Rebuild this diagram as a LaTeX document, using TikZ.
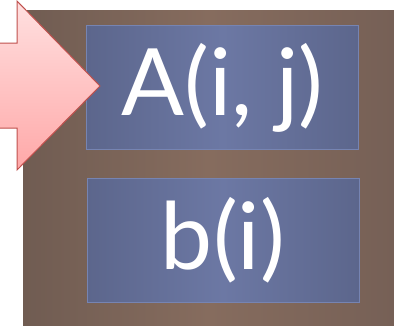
\documentclass[tikz,border=0pt]{standalone}
\usepackage{fontspec}
\setmainfont{Lato}
\definecolor{brL}{RGB}{112,92,82}
\definecolor{brM}{RGB}{134,108,94}
\definecolor{brR}{RGB}{118,96,86}
\definecolor{blD}{RGB}{92,102,140}
\definecolor{blM}{RGB}{108,120,164}
\definecolor{blB}{RGB}{118,132,178}
\definecolor{arB}{RGB}{192,80,77}
\definecolor{arT}{RGB}{255,224,224}
\definecolor{arBt}{RGB}{255,168,168}
\begin{document}
\begin{tikzpicture}[x=1pt,y=-1pt,
  cell/.style={draw=blB,line width=0.8pt,
     left color=blD,right color=blD,middle color=blM,
     minimum width=272pt,minimum height=124pt,inner sep=0pt,
     text=white,font=\fontsize{93}{93}\selectfont},
  blockarrow/.style={draw=arB,line width=1pt,top color=arT,bottom color=arBt}
]
\useasboundingbox (0,0) rectangle (394,327);
\fill[white] (0,0) rectangle (394,327);
\shade[left color=brL,right color=brR,middle color=brM] (23,10) rectangle (394,325);
\node[cell] (A) at (222.5,87.5) {A(i, j)};
\node[cell] (b) at (223,240) {b(i)};
\path[blockarrow] (-2,43) -- (17,43) -- (17,1) -- (100,86) -- (17,170) -- (17,128) -- (-2,128) -- cycle;
\end{tikzpicture}
\end{document}
